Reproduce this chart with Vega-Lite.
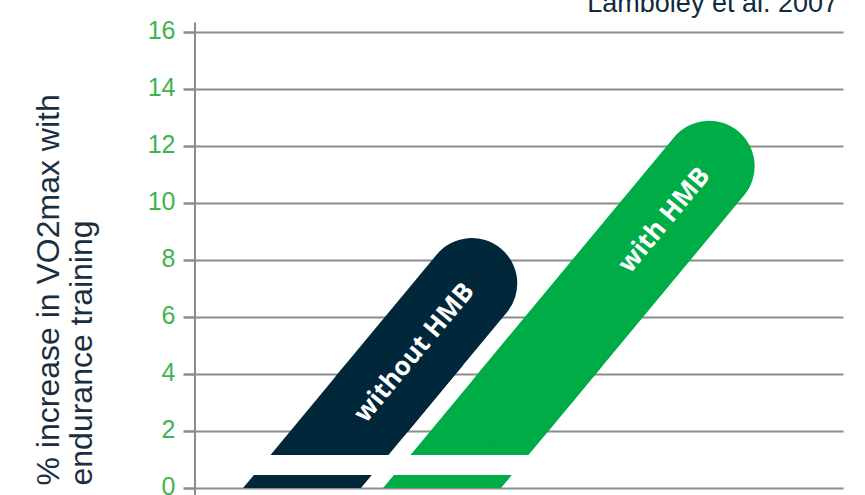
{
  "$schema": "https://vega.github.io/schema/vega-lite/v6.json",
  "width": 648,
  "height": 456,
  "autosize": {"type": "none"},
  "padding": {"left": 195, "top": 32, "right": 22, "bottom": 7},
  "background": "white",
  "config": {"view": {"stroke": null}},
  "datasets": {
    "pieces": [
      {"group": "without HMB", "piece": "d1", "y": 0, "xl": 7.41, "xr": 25.61},
      {"group": "without HMB", "piece": "d1", "y": 0.46, "xl": 9.09, "xr": 27.29},
      {"group": "without HMB", "piece": "d2", "y": 1.16, "xl": 11.65, "xr": 29.85},
      {"group": "without HMB", "piece": "d2", "y": 4.3, "xl": 23.11, "xr": 41.31},
      {"group": "with HMB", "piece": "g1", "y": 0, "xl": 29.02, "xr": 47.22},
      {"group": "with HMB", "piece": "g1", "y": 0.46, "xl": 30.7, "xr": 48.9},
      {"group": "with HMB", "piece": "g2", "y": 1.16, "xl": 33.26, "xr": 51.46},
      {"group": "with HMB", "piece": "g2", "y": 4.3, "xl": 44.72, "xr": 62.92}
    ],
    "caps": [
      {"group": "without HMB", "y": 3.0, "x": 27.46},
      {"group": "without HMB", "y": 7.175, "x": 42.71},
      {"group": "with HMB", "y": 3.0, "x": 49.07},
      {"group": "with HMB", "y": 11.29, "x": 79.34}
    ],
    "labels": [
      {"label": "without HMB", "y": 4.75, "x": 33.85},
      {"label": "with HMB", "y": 9.4, "x": 72.44}
    ],
    "axisline": [{"x": 0, "y": -0.3, "y2": 16.33}],
    "source": [{"text": "Lamboley et al. 2007", "x": 100, "y": 16.7}]
  },
  "layer": [
    {
      "data": {"name": "pieces"},
      "mark": {"type": "area", "orient": "horizontal", "interpolate": "linear"},
      "encoding": {
        "y": {
          "field": "y", "type": "quantitative", "stack": null,
          "scale": {"domain": [0, 16], "nice": false, "zero": false},
          "axis": {
            "values": [0, 2, 4, 6, 8, 10, 12, 14, 16],
            "domain": false,
            "grid": true, "gridColor": "#8c8c8c", "gridWidth": 2,
            "ticks": true, "tickSize": 12, "tickColor": "#8c8c8c", "tickWidth": 2.5,
            "labelFont": "Liberation Sans", "labelFontSize": 25, "labelColor": "#3fb34f",
            "labelPadding": 8, "labelBaseline": "middle", "labelOffset": -2,
            "title": ["% increase in VO2max with", "endurance training"],
            "titleFont": "Liberation Sans", "titleFontSize": 32, "titleFontWeight": "normal",
            "titleColor": "#1b2f40", "titleAngle": -90, "titleAlign": "left",
            "titleBaseline": "alphabetic", "titleX": -137, "titleY": 453, "titleLineHeight": 33.4
          }
        },
        "x": {"field": "xl", "type": "quantitative", "stack": null, "scale": {"domain": [0, 100], "nice": false, "zero": false}, "axis": null},
        "x2": {"field": "xr"},
        "detail": {"field": "piece"},
        "color": {"field": "group", "type": "nominal", "scale": {"domain": ["without HMB", "with HMB"], "range": ["#01283a", "#00ac46"]}, "legend": null}
      }
    },
    {
      "data": {"name": "caps"},
      "mark": {"type": "line", "strokeWidth": 91, "strokeCap": "round"},
      "encoding": {
        "y": {"field": "y", "type": "quantitative"},
        "x": {"field": "x", "type": "quantitative", "scale": {"domain": [0, 100], "nice": false, "zero": false}, "axis": null},
        "order": {"field": "y"},
        "color": {"field": "group", "type": "nominal", "legend": null}
      }
    },
    {
      "data": {"name": "labels"},
      "mark": {"type": "text", "angle": -50.3, "font": "Open Sans", "fontWeight": "bold", "fontSize": 26, "color": "white", "align": "center", "baseline": "middle"},
      "encoding": {
        "y": {"field": "y", "type": "quantitative"},
        "x": {"field": "x", "type": "quantitative", "axis": null},
        "text": {"field": "label"}
      }
    },
    {
      "data": {"name": "axisline"},
      "mark": {"type": "rule", "color": "#8c8c8c", "strokeWidth": 2},
      "encoding": {
        "y": {"field": "y", "type": "quantitative"},
        "y2": {"field": "y2"},
        "x": {"field": "x", "type": "quantitative", "axis": null}
      }
    },
    {
      "data": {"name": "source"},
      "mark": {"type": "text", "align": "right", "baseline": "alphabetic", "dx": -5, "font": "Liberation Sans", "fontSize": 27, "color": "#0f2a3e"},
      "encoding": {
        "y": {"field": "y", "type": "quantitative"},
        "x": {"field": "x", "type": "quantitative", "axis": null},
        "text": {"field": "text"}
      }
    }
  ]
}
